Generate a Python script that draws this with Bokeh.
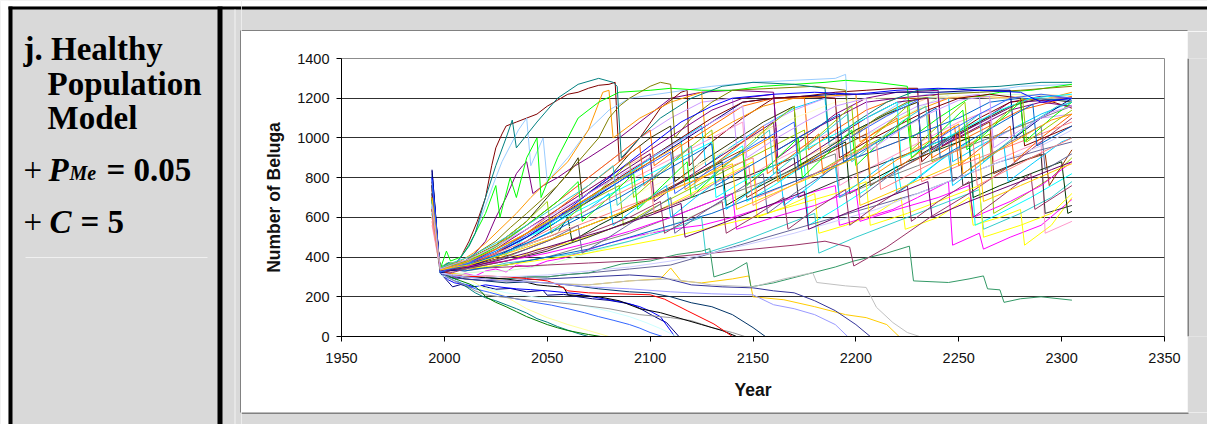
from bokeh.plotting import figure
from bokeh.models import Range1d, FixedTicker
from bokeh.layouts import row, column
from bokeh.core.properties import value
from bokeh.embed import file_html
from bokeh.resources import INLINE

# simulated beluga counts, (year, count)
run01 = [(1994, 840), (1998, 320), (2001, 285), (2004, 250), (2008, 262), (2012, 248), (2018, 255), (2025, 238), (2032, 242), (2040, 225), (2048, 232), (2050, 208), (2058, 212), (2065, 200), (2072, 190), (2080, 182), (2088, 168), (2092, 158), (2097, 130), (2100, 112), (2105, 85), (2108, 70), (2114, 0)]
run02 = [(1994, 700), (1998, 330), (2002, 310), (2006, 295), (2010, 318), (2015, 305), (2020, 330), (2025, 340), (2030, 325), (2035, 360), (2042, 350), (2050, 380), (2058, 395), (2065, 420), (2080, 470), (2095, 510), (2110, 540), (2125, 560), (2140, 600), (2155, 650), (2170, 700), (2190, 760), (2192, 560), (2205, 600), (2218, 640), (2230, 700), (2245, 780), (2247, 460), (2260, 520), (2262, 440), (2275, 500), (2290, 560), (2305, 690)]
run03 = [(1994, 720), (1998, 340), (2001, 370), (2004, 345), (2008, 362), (2012, 350), (2016, 385), (2022, 372), (2030, 410), (2037, 402), (2045, 440), (2052, 452), (2060, 470), (2075, 520), (2090, 580), (2105, 640), (2120, 720), (2135, 800), (2150, 880), (2152, 600), (2165, 650), (2180, 720), (2182, 520), (2195, 560), (2210, 620), (2222, 700), (2224, 540), (2240, 600), (2255, 700), (2257, 560), (2270, 600), (2280, 640), (2282, 460), (2295, 560), (2305, 700)]
run04 = [(1994, 650), (1998, 330), (2002, 355), (2006, 338), (2010, 365), (2015, 352), (2020, 395), (2025, 420), (2030, 410), (2035, 462), (2040, 500), (2047, 530), (2055, 580), (2062, 640), (2070, 680), (2085, 780), (2100, 900), (2115, 1000), (2117, 780), (2130, 860), (2145, 960), (2147, 680), (2160, 760), (2175, 860), (2177, 560), (2190, 640), (2205, 740), (2220, 860), (2222, 740), (2240, 880), (2255, 980), (2258, 560), (2270, 620), (2285, 700), (2295, 760), (2305, 820)]
run05 = [(1994, 780), (1998, 320), (2001, 345), (2005, 330), (2009, 372), (2015, 420), (2020, 480), (2025, 600), (2030, 700), (2035, 820), (2038, 860), (2040, 880), (2043, 720), (2048, 760), (2055, 800), (2062, 850), (2070, 900), (2085, 1000), (2100, 1120), (2110, 1200), (2125, 1230), (2140, 1240), (2160, 1230), (2162, 900), (2175, 1000), (2190, 1120), (2205, 1200), (2220, 1230), (2240, 1240), (2242, 960), (2260, 1080), (2275, 1180), (2290, 1210), (2305, 1200)]
run06 = [(1994, 760), (1998, 340), (2001, 365), (2004, 350), (2008, 400), (2012, 480), (2016, 580), (2020, 700), (2023, 860), (2025, 950), (2028, 1020), (2030, 1060), (2035, 1080), (2040, 1100), (2045, 1120), (2050, 1160), (2055, 1190), (2060, 1220), (2065, 1230), (2070, 1250), (2075, 1265), (2080, 1270), (2083, 1280), (2085, 880), (2095, 1000), (2105, 1150), (2115, 1230), (2118, 1240), (2119, 860), (2130, 980), (2145, 1100), (2160, 1200), (2175, 1210), (2190, 1230), (2205, 1240), (2220, 1250), (2230, 1250), (2232, 880), (2245, 1000), (2260, 1100), (2275, 1180), (2290, 1200), (2305, 1150)]
run07 = [(1994, 640), (1998, 330), (2002, 300), (2005, 290), (2010, 255), (2015, 220), (2020, 195), (2025, 180), (2030, 160), (2035, 140), (2040, 118), (2045, 90), (2050, 72), (2055, 50), (2060, 32), (2065, 15), (2070, 0), (2100, 0)]
run08 = [(1994, 800), (1998, 320), (2002, 285), (2005, 270), (2010, 262), (2015, 250), (2020, 260), (2028, 248), (2035, 240), (2042, 236), (2050, 230), (2058, 222), (2065, 215), (2072, 200), (2080, 185), (2088, 170), (2095, 150), (2100, 128), (2105, 100), (2112, 0)]
run09 = [(1994, 700), (1998, 350), (2002, 372), (2005, 355), (2008, 362), (2014, 385), (2020, 400), (2027, 430), (2035, 470), (2042, 512), (2050, 560), (2065, 660), (2080, 760), (2095, 860), (2110, 960), (2125, 1060), (2127, 860), (2140, 960), (2155, 1060), (2170, 1150), (2185, 1200), (2187, 960), (2200, 1040), (2215, 1120), (2230, 1200), (2245, 1210), (2247, 880), (2260, 960), (2275, 1040), (2290, 1120), (2305, 1180)]
run10 = [(1994, 600), (1998, 310), (2003, 290), (2010, 270), (2020, 245), (2030, 220), (2040, 205), (2050, 190), (2060, 172), (2070, 150), (2080, 128), (2090, 100), (2098, 70), (2105, 40), (2113, 0)]
run11 = [(1994, 680), (1998, 330), (2003, 315), (2010, 320), (2020, 328), (2030, 330), (2040, 345), (2050, 360), (2060, 390), (2070, 420), (2090, 480), (2110, 560), (2130, 650), (2150, 740), (2170, 840), (2190, 940), (2210, 1040), (2225, 1120), (2240, 1200), (2260, 1210), (2280, 1220), (2305, 1210)]
run12 = [(1994, 620), (1998, 320), (2004, 310), (2010, 300), (2015, 270), (2020, 240), (2025, 222), (2030, 200), (2035, 170), (2040, 140), (2045, 118), (2050, 95), (2055, 78), (2060, 60), (2070, 30), (2080, 0)]
run13 = [(1994, 660), (1998, 340), (2002, 352), (2005, 360), (2010, 430), (2015, 520), (2020, 660), (2025, 800), (2028, 880), (2032, 960), (2036, 1040), (2040, 1100), (2042, 860), (2045, 930), (2048, 1000), (2050, 780), (2060, 900), (2070, 1040), (2080, 1140), (2090, 1200), (2110, 1230), (2130, 1260), (2150, 1280), (2170, 1290), (2190, 1300), (2195, 1320), (2197, 980), (2210, 1100), (2225, 1200), (2240, 1230), (2260, 1230), (2280, 1260), (2305, 1270)]
run14 = [(1994, 560), (1998, 340), (2002, 368), (2006, 355), (2010, 380), (2017, 402), (2025, 440), (2032, 475), (2040, 520), (2055, 600), (2070, 680), (2085, 760), (2100, 840), (2115, 920), (2130, 1000), (2145, 1080), (2147, 800), (2160, 880), (2175, 960), (2190, 1040), (2192, 760), (2205, 840), (2220, 920), (2235, 1000), (2250, 1080), (2265, 1140), (2267, 880), (2280, 940), (2290, 980), (2292, 520), (2305, 580)]
run15 = [(1994, 700), (1998, 330), (2003, 352), (2008, 360), (2014, 395), (2020, 420), (2027, 465), (2035, 520), (2042, 578), (2050, 640), (2065, 760), (2080, 880), (2095, 1000), (2110, 1100), (2125, 1180), (2140, 1200), (2142, 960), (2155, 1060), (2170, 1140), (2185, 1200), (2200, 1220), (2202, 1000), (2215, 1080), (2230, 1160), (2245, 1200), (2260, 1220), (2262, 960), (2275, 1040), (2290, 1100), (2305, 1120)]
run16 = [(1994, 600), (1998, 340), (2004, 362), (2010, 380), (2017, 412), (2025, 450), (2032, 492), (2040, 540), (2055, 640), (2070, 740), (2085, 840), (2100, 920), (2102, 720), (2115, 800), (2130, 900), (2145, 980), (2160, 1060), (2162, 820), (2175, 900), (2190, 980), (2205, 1060), (2220, 1140), (2235, 1200), (2250, 1210), (2270, 1200), (2290, 1220), (2305, 1210)]
run17 = [(1994, 720), (1998, 330), (2001, 300), (2005, 280), (2010, 262), (2015, 240), (2022, 222), (2030, 200), (2037, 185), (2045, 170), (2052, 158), (2060, 140), (2068, 120), (2075, 100), (2082, 82), (2090, 60), (2095, 42), (2100, 20), (2106, 0)]
run18 = [(1994, 680), (1998, 330), (2003, 352), (2008, 335), (2013, 350), (2020, 345), (2030, 370), (2040, 382), (2050, 400), (2060, 412), (2070, 430), (2090, 480), (2110, 540), (2125, 600), (2127, 420), (2145, 480), (2165, 560), (2180, 620), (2182, 420), (2200, 500), (2220, 580), (2240, 660), (2260, 740), (2262, 540), (2280, 620), (2295, 700), (2305, 780)]
run19 = [(1994, 640), (1998, 350), (2003, 372), (2007, 360), (2012, 390), (2018, 408), (2025, 440), (2032, 475), (2040, 520), (2055, 600), (2070, 680), (2085, 760), (2087, 560), (2100, 640), (2115, 720), (2130, 800), (2145, 880), (2160, 960), (2175, 1040), (2177, 800), (2190, 880), (2205, 960), (2220, 1040), (2235, 1120), (2237, 880), (2250, 940), (2265, 1020), (2267, 620), (2280, 700), (2295, 800), (2305, 900)]
run20 = [(1994, 760), (1998, 330), (2003, 318), (2010, 310), (2020, 295), (2030, 280), (2040, 276), (2050, 270), (2060, 262), (2070, 260), (2080, 270), (2090, 280), (2105, 290), (2110, 345), (2115, 280), (2125, 270), (2140, 290), (2148, 305), (2150, 200), (2165, 185), (2180, 150), (2195, 110), (2205, 95), (2215, 60), (2221, 0)]
run21 = [(1994, 740), (1998, 340), (2003, 368), (2008, 380), (2014, 420), (2020, 470), (2027, 540), (2035, 620), (2042, 700), (2050, 780), (2060, 880), (2070, 1040), (2077, 1230), (2080, 1240), (2082, 1000), (2095, 1100), (2110, 1180), (2125, 1230), (2127, 1000), (2140, 1080), (2155, 1160), (2170, 1200), (2185, 1210), (2200, 1220), (2202, 980), (2215, 1060), (2230, 1140), (2245, 1200), (2260, 1210), (2275, 1200), (2290, 1190), (2305, 1230)]
run22 = [(1994, 650), (1998, 350), (2003, 340), (2006, 365), (2010, 380), (2017, 418), (2025, 460), (2032, 505), (2040, 560), (2055, 680), (2070, 800), (2085, 920), (2100, 1040), (2102, 860), (2115, 960), (2130, 1060), (2145, 1160), (2160, 1200), (2175, 1200), (2177, 940), (2190, 1040), (2205, 1140), (2220, 1200), (2235, 1200), (2237, 900), (2250, 980), (2265, 1060), (2280, 1140), (2295, 1180), (2305, 1210)]
run23 = [(1994, 700), (1998, 320), (2004, 305), (2010, 300), (2020, 296), (2030, 290), (2040, 298), (2050, 300), (2060, 312), (2070, 320), (2090, 340), (2110, 360), (2130, 420), (2150, 480), (2170, 540), (2190, 600), (2210, 660), (2230, 720), (2250, 800), (2270, 880), (2290, 940), (2305, 980)]
run24 = [(1994, 620), (1998, 320), (2003, 290), (2007, 270), (2010, 260), (2015, 230), (2020, 210), (2027, 200), (2035, 190), (2042, 182), (2050, 175), (2065, 160), (2080, 140), (2095, 110), (2110, 95), (2120, 80), (2130, 45), (2140, 20), (2146, 0)]
run25 = [(1994, 780), (1998, 330), (2004, 305), (2010, 290), (2020, 280), (2030, 270), (2040, 275), (2050, 270), (2060, 260), (2075, 240), (2090, 225), (2100, 220), (2110, 200), (2120, 170), (2130, 150), (2140, 110), (2150, 45), (2156, 0)]
run26 = [(1994, 690), (1998, 330), (2004, 310), (2010, 300), (2020, 296), (2030, 290), (2040, 302), (2050, 300), (2060, 312), (2070, 320), (2086, 365), (2100, 380), (2113, 413), (2125, 430), (2129, 443), (2131, 300), (2140, 330), (2147, 372), (2149, 250), (2160, 270), (2176, 313), (2190, 350), (2199, 380), (2215, 420), (2226, 455), (2228, 280), (2245, 272), (2255, 290), (2262, 305), (2264, 240), (2270, 235), (2272, 172), (2280, 190), (2290, 200), (2305, 183)]
run27 = [(1994, 700), (1998, 330), (2003, 345), (2010, 350), (2017, 372), (2025, 400), (2032, 428), (2040, 460), (2055, 520), (2060, 600), (2062, 480), (2075, 560), (2090, 640), (2105, 720), (2120, 800), (2135, 880), (2137, 660), (2150, 740), (2165, 820), (2180, 900), (2195, 980), (2197, 720), (2210, 800), (2225, 880), (2240, 940), (2255, 1000), (2257, 700), (2270, 760), (2285, 820), (2300, 880), (2303, 620), (2305, 630)]
run28 = [(1994, 720), (1998, 340), (2003, 362), (2010, 380), (2017, 418), (2025, 460), (2032, 515), (2040, 580), (2050, 700), (2060, 820), (2065, 900), (2067, 700), (2080, 800), (2090, 920), (2100, 1000), (2110, 1060), (2112, 780), (2125, 880), (2140, 980), (2155, 1080), (2170, 1160), (2172, 860), (2185, 940), (2200, 1040), (2215, 1120), (2230, 1180), (2232, 920), (2245, 1000), (2260, 1080), (2275, 1160), (2290, 1200), (2305, 1180)]
run29 = [(1994, 680), (1998, 330), (2004, 342), (2010, 350), (2017, 368), (2025, 390), (2032, 412), (2040, 440), (2055, 500), (2070, 560), (2085, 620), (2100, 700), (2115, 780), (2130, 860), (2145, 940), (2147, 700), (2160, 780), (2175, 860), (2190, 940), (2205, 1020), (2207, 760), (2220, 840), (2235, 920), (2250, 1000), (2265, 1080), (2267, 820), (2280, 880), (2292, 920), (2294, 760), (2305, 940)]
run30 = [(1994, 640), (1998, 340), (2004, 330), (2010, 340), (2020, 345), (2030, 350), (2050, 360), (2070, 370), (2090, 380), (2110, 400), (2130, 420), (2150, 440), (2170, 460), (2185, 480), (2197, 450), (2199, 355), (2215, 450), (2236, 600), (2255, 720), (2275, 860), (2290, 980), (2305, 1100)]
run31 = [(1994, 820), (1998, 320), (2004, 296), (2010, 290), (2020, 282), (2030, 280), (2040, 286), (2050, 290), (2070, 300), (2090, 310), (2105, 300), (2120, 260), (2135, 250), (2150, 245), (2160, 230), (2170, 220), (2180, 180), (2190, 130), (2200, 60), (2207, 0)]
run32 = [(1994, 700), (1998, 330), (2004, 348), (2010, 340), (2020, 360), (2030, 380), (2040, 405), (2050, 430), (2070, 500), (2090, 580), (2110, 660), (2130, 740), (2150, 820), (2170, 900), (2172, 700), (2190, 780), (2210, 860), (2230, 940), (2250, 1020), (2252, 760), (2270, 840), (2290, 920), (2292, 620), (2305, 660)]
run33 = [(1994, 760), (1998, 330), (2004, 310), (2010, 300), (2020, 296), (2030, 290), (2038, 278), (2045, 260), (2050, 255), (2058, 248), (2060, 210), (2075, 200), (2085, 180), (2095, 140), (2105, 120), (2115, 90), (2125, 60), (2135, 30), (2142, 0)]
run34 = [(1994, 700), (1998, 330), (2004, 312), (2010, 300), (2020, 305), (2030, 300), (2040, 292), (2050, 280), (2055, 262), (2060, 230), (2070, 220), (2085, 215), (2100, 210), (2107, 188), (2118, 130), (2131, 63), (2140, 0)]
run35 = [(1994, 720), (1998, 340), (2001, 430), (2003, 380), (2008, 400), (2012, 460), (2015, 520), (2020, 620), (2025, 760), (2027, 600), (2032, 800), (2035, 700), (2040, 900), (2045, 1000), (2047, 700), (2055, 900), (2065, 1100), (2075, 1180), (2085, 1230), (2100, 1240), (2110, 1250), (2125, 1240), (2140, 1240), (2155, 1260), (2170, 1270), (2185, 1280), (2195, 1290), (2210, 1280), (2225, 1260), (2227, 1000), (2240, 1100), (2255, 1200), (2270, 1230), (2285, 1240), (2305, 1270)]
run36 = [(1994, 690), (1998, 330), (2003, 300), (2008, 280), (2012, 265), (2015, 250), (2018, 225), (2020, 200), (2025, 172), (2030, 150), (2035, 125), (2040, 100), (2045, 80), (2050, 60), (2055, 44), (2060, 30), (2070, 10), (2076, 0)]
run37 = [(1994, 740), (1998, 340), (2004, 362), (2010, 380), (2017, 428), (2025, 480), (2032, 548), (2040, 620), (2055, 760), (2065, 880), (2075, 1000), (2080, 1100), (2085, 1160), (2090, 1200), (2100, 1260), (2105, 1280), (2110, 1270), (2112, 1000), (2120, 1100), (2130, 1180), (2140, 1240), (2160, 1250), (2180, 1260), (2195, 1240), (2197, 1000), (2210, 1100), (2225, 1180), (2240, 1220), (2260, 1230), (2280, 1240), (2305, 1260)]
run38 = [(1994, 660), (1998, 320), (2004, 308), (2010, 300), (2020, 290), (2030, 280), (2040, 276), (2050, 270), (2070, 260), (2090, 280), (2110, 290), (2130, 260), (2150, 250), (2165, 290), (2179, 322), (2181, 272), (2195, 255), (2205, 247), (2210, 147), (2218, 70), (2225, 20), (2231, 0)]
run39 = [(1994, 640), (1998, 320), (2004, 338), (2010, 330), (2020, 345), (2030, 360), (2040, 380), (2050, 400), (2070, 460), (2090, 520), (2110, 600), (2130, 680), (2150, 760), (2170, 840), (2190, 920), (2192, 700), (2210, 780), (2230, 860), (2250, 940), (2270, 1020), (2290, 1100), (2305, 1160)]
run40 = [(1994, 720), (1998, 320), (2004, 305), (2010, 300), (2020, 290), (2030, 280), (2050, 270), (2070, 250), (2090, 240), (2110, 225), (2130, 215), (2150, 210), (2160, 160), (2170, 140), (2180, 110), (2190, 60), (2196, 0), (2305, 0)]
run41 = [(1994, 600), (1998, 330), (2004, 350), (2010, 360), (2020, 388), (2030, 420), (2050, 500), (2070, 600), (2090, 700), (2110, 800), (2130, 900), (2150, 1000), (2170, 1100), (2190, 1180), (2210, 1200), (2240, 1210), (2270, 1200), (2305, 1200)]
run42 = [(1994, 760), (1998, 330), (2004, 348), (2010, 350), (2017, 386), (2025, 420), (2040, 520), (2055, 620), (2070, 720), (2085, 820), (2100, 920), (2102, 680), (2115, 780), (2130, 880), (2145, 980), (2160, 1080), (2162, 820), (2175, 900), (2190, 1000), (2205, 1100), (2220, 1180), (2235, 1200), (2237, 940), (2250, 1020), (2265, 1100), (2280, 1180), (2305, 1200)]
run43 = [(1994, 580), (1998, 340), (2004, 358), (2010, 370), (2020, 398), (2030, 430), (2050, 500), (2070, 580), (2090, 660), (2110, 740), (2130, 820), (2150, 900), (2152, 700), (2170, 780), (2190, 860), (2210, 940), (2230, 1020), (2232, 780), (2250, 860), (2270, 940), (2290, 1020), (2305, 1080)]
run44 = [(1994, 810), (1998, 320), (2004, 335), (2010, 330), (2020, 348), (2030, 360), (2050, 400), (2070, 440), (2090, 500), (2110, 560), (2130, 620), (2150, 700), (2170, 780), (2190, 860), (2210, 940), (2230, 1020), (2250, 1100), (2265, 1180), (2280, 1200), (2305, 1190)]
run45 = [(1994, 620), (1998, 320), (2004, 312), (2010, 310), (2020, 305), (2030, 300), (2050, 310), (2070, 330), (2090, 350), (2110, 380), (2130, 420), (2150, 470), (2170, 520), (2190, 580), (2210, 640), (2230, 720), (2250, 800), (2270, 880), (2290, 960), (2305, 1040)]
run46 = [(1994, 835), (1998, 320), (2003, 332), (2010, 340), (2017, 370), (2025, 400), (2040, 480), (2055, 580), (2070, 680), (2085, 780), (2100, 880), (2115, 980), (2130, 1080), (2145, 1180), (2160, 1200), (2175, 1210), (2190, 1220), (2205, 1220), (2220, 1230), (2240, 1230), (2260, 1240), (2275, 1240), (2277, 1000), (2290, 1100), (2305, 1200)]
run47 = [(1994, 680), (1998, 340), (2004, 358), (2010, 350), (2020, 368), (2030, 380), (2050, 420), (2070, 470), (2090, 530), (2110, 600), (2125, 660), (2140, 720), (2142, 540), (2160, 600), (2180, 660), (2200, 740), (2202, 580), (2220, 640), (2240, 700), (2255, 760), (2257, 600), (2275, 680), (2290, 760), (2305, 880)]
run48 = [(1994, 700), (1998, 330), (2004, 345), (2010, 340), (2020, 352), (2030, 360), (2050, 390), (2070, 420), (2090, 460), (2110, 500), (2130, 550), (2150, 600), (2170, 660), (2190, 720), (2205, 780), (2207, 560), (2225, 620), (2240, 680), (2260, 760), (2262, 500), (2280, 560), (2295, 620), (2305, 720)]
run49 = [(1994, 660), (1998, 340), (2004, 360), (2010, 370), (2017, 398), (2025, 430), (2040, 500), (2055, 580), (2070, 660), (2085, 740), (2100, 820), (2115, 900), (2130, 980), (2132, 700), (2145, 780), (2160, 860), (2175, 940), (2190, 1020), (2205, 1100), (2220, 1180), (2222, 900), (2240, 980), (2255, 1060), (2270, 1140), (2285, 1200), (2305, 1220)]
run50 = [(1994, 740), (1998, 330), (2004, 352), (2010, 360), (2017, 398), (2025, 440), (2040, 540), (2055, 640), (2070, 740), (2085, 840), (2100, 940), (2115, 1040), (2130, 1140), (2145, 1200), (2160, 1220), (2162, 940), (2175, 1020), (2190, 1100), (2205, 1180), (2220, 1200), (2240, 1220), (2242, 960), (2260, 1060), (2275, 1140), (2290, 1180), (2305, 1160)]
run51 = [(1994, 760), (1998, 340), (2004, 350), (2010, 360), (2017, 388), (2025, 420), (2040, 500), (2055, 600), (2070, 700), (2085, 800), (2100, 900), (2115, 1000), (2130, 1100), (2145, 1180), (2160, 1200), (2175, 1210), (2190, 1200), (2192, 900), (2205, 980), (2220, 1060), (2235, 1140), (2250, 1200), (2265, 1220), (2280, 1200), (2282, 960), (2305, 1060)]
run52 = [(1994, 700), (1998, 340), (2002, 372), (2005, 360), (2008, 400), (2012, 455), (2015, 520), (2020, 700), (2025, 860), (2030, 1000), (2033, 1090), (2035, 950), (2045, 1080), (2055, 1200), (2065, 1270), (2075, 1300), (2082, 1280), (2084, 1260), (2086, 900), (2095, 1000), (2105, 1100), (2120, 1200), (2135, 1260), (2150, 1280), (2170, 1270), (2185, 1250), (2187, 980), (2200, 1080), (2215, 1180), (2230, 1240), (2250, 1250), (2270, 1260), (2290, 1280), (2305, 1280)]
run53 = [(1994, 800), (1998, 330), (2004, 350), (2010, 360), (2017, 390), (2025, 420), (2040, 500), (2055, 600), (2070, 720), (2085, 840), (2100, 960), (2115, 1080), (2130, 1160), (2140, 1200), (2160, 1220), (2180, 1230), (2200, 1220), (2220, 1240), (2240, 1250), (2260, 1240), (2280, 1230), (2290, 1180), (2305, 1200)]
run54 = [(1994, 620), (1998, 340), (2004, 352), (2010, 360), (2030, 420), (2050, 520), (2070, 640), (2080, 720), (2082, 560), (2095, 660), (2108, 760), (2110, 600), (2122, 700), (2135, 800), (2137, 640), (2150, 740), (2163, 840), (2165, 660), (2178, 760), (2190, 860), (2192, 700), (2205, 800), (2218, 900), (2220, 720), (2233, 820), (2245, 920), (2247, 760), (2260, 860), (2272, 960), (2274, 780), (2287, 880), (2300, 980), (2305, 1000)]
run55 = [(1994, 700), (1998, 330), (2004, 342), (2010, 350), (2025, 420), (2040, 520), (2055, 640), (2070, 760), (2085, 880), (2095, 960), (2097, 760), (2108, 860), (2120, 960), (2122, 780), (2133, 880), (2145, 980), (2155, 1060), (2157, 820), (2170, 920), (2182, 1020), (2184, 820), (2196, 920), (2208, 1020), (2220, 1100), (2222, 860), (2235, 960), (2248, 1060), (2250, 860), (2262, 960), (2275, 1060), (2277, 880), (2290, 1000), (2305, 1120)]
run56 = [(1994, 680), (1998, 340), (2004, 358), (2010, 370), (2025, 450), (2040, 560), (2055, 680), (2065, 780), (2067, 580), (2080, 700), (2092, 820), (2094, 640), (2106, 760), (2118, 880), (2120, 700), (2132, 820), (2145, 940), (2147, 760), (2160, 880), (2172, 1000), (2174, 800), (2186, 920), (2198, 1040), (2200, 860), (2212, 980), (2225, 1100), (2227, 900), (2240, 1020), (2252, 1140), (2254, 940), (2267, 1060), (2280, 1180), (2282, 980), (2295, 1100), (2305, 1180)]
run57 = [(1994, 640), (1998, 330), (2004, 322), (2010, 340), (2030, 380), (2050, 440), (2070, 520), (2090, 600), (2105, 680), (2107, 520), (2120, 600), (2135, 680), (2137, 520), (2150, 600), (2165, 700), (2167, 540), (2180, 640), (2195, 740), (2197, 560), (2210, 660), (2225, 760), (2227, 580), (2240, 680), (2255, 780), (2257, 600), (2270, 700), (2285, 820), (2287, 640), (2305, 760)]
run58 = [(1994, 760), (1998, 330), (2004, 338), (2010, 340), (2030, 400), (2050, 480), (2065, 560), (2067, 420), (2080, 500), (2095, 600), (2110, 700), (2112, 520), (2125, 620), (2140, 720), (2155, 820), (2157, 620), (2170, 720), (2185, 820), (2200, 920), (2202, 700), (2215, 800), (2230, 900), (2245, 1000), (2247, 780), (2260, 880), (2275, 980), (2290, 1060), (2292, 840), (2305, 920)]
run59 = [(1994, 700), (1998, 340), (2004, 366), (2010, 380), (2025, 460), (2040, 580), (2050, 680), (2052, 520), (2065, 640), (2078, 760), (2090, 880), (2092, 700), (2105, 820), (2118, 940), (2130, 1040), (2132, 820), (2145, 940), (2158, 1060), (2170, 1160), (2172, 920), (2185, 1040), (2198, 1160), (2200, 920), (2212, 1040), (2225, 1160), (2227, 940), (2240, 1060), (2253, 1180), (2255, 960), (2268, 1080), (2281, 1200), (2283, 980), (2305, 1140)]
run60 = [(1994, 600), (1998, 335), (2004, 350), (2012, 372), (2025, 420), (2040, 480), (2055, 560), (2070, 640), (2085, 720), (2100, 800), (2102, 620), (2118, 700), (2133, 780), (2148, 860), (2150, 660), (2165, 740), (2180, 820), (2195, 900), (2210, 980), (2212, 740), (2227, 820), (2242, 900), (2257, 980), (2259, 760), (2274, 840), (2289, 920), (2305, 1000)]
run61 = [(1994, 760), (1998, 325), (2004, 340), (2012, 360), (2025, 410), (2040, 470), (2055, 540), (2070, 620), (2085, 700), (2100, 790), (2115, 880), (2130, 970), (2132, 760), (2147, 850), (2162, 940), (2177, 1030), (2192, 1120), (2194, 880), (2209, 970), (2224, 1060), (2239, 1150), (2241, 900), (2256, 990), (2271, 1080), (2286, 1170), (2288, 960), (2305, 1060)]
run62 = [(1994, 720), (1998, 330), (2004, 336), (2012, 350), (2025, 380), (2040, 420), (2060, 480), (2080, 540), (2100, 610), (2115, 670), (2117, 500), (2135, 570), (2155, 650), (2175, 730), (2177, 540), (2195, 620), (2215, 700), (2235, 780), (2237, 600), (2255, 680), (2275, 760), (2295, 840), (2305, 880)]
run63 = [(1994, 680), (1998, 345), (2004, 372), (2012, 400), (2025, 470), (2040, 560), (2055, 660), (2070, 760), (2082, 860), (2084, 660), (2096, 760), (2108, 860), (2120, 960), (2122, 740), (2134, 840), (2146, 940), (2158, 1040), (2160, 820), (2172, 920), (2184, 1020), (2196, 1120), (2198, 880), (2210, 980), (2222, 1080), (2234, 1160), (2236, 920), (2248, 1020), (2260, 1120), (2262, 880), (2274, 980), (2286, 1080), (2298, 1160), (2305, 1180)]
run64 = [(1994, 640), (1998, 340), (2004, 355), (2012, 380), (2025, 440), (2040, 520), (2055, 610), (2070, 700), (2085, 790), (2100, 880), (2115, 970), (2117, 740), (2130, 830), (2145, 920), (2160, 1010), (2162, 780), (2175, 870), (2190, 960), (2205, 1050), (2207, 800), (2220, 890), (2235, 980), (2250, 1070), (2252, 820), (2265, 910), (2280, 1000), (2295, 1090), (2305, 1120)]
run65 = [(1994, 790), (1998, 325), (2004, 345), (2012, 370), (2025, 430), (2040, 510), (2055, 600), (2070, 690), (2085, 780), (2100, 870), (2110, 930), (2112, 720), (2125, 810), (2140, 900), (2155, 990), (2170, 1080), (2172, 840), (2185, 930), (2200, 1020), (2215, 1110), (2230, 1190), (2232, 940), (2245, 1030), (2260, 1120), (2275, 1200), (2290, 1220), (2305, 1200)]
run66 = [(1994, 700), (1998, 335), (2004, 348), (2012, 360), (2025, 400), (2040, 450), (2060, 520), (2080, 600), (2100, 690), (2120, 780), (2140, 870), (2142, 640), (2160, 720), (2180, 810), (2200, 900), (2202, 660), (2220, 740), (2240, 830), (2260, 920), (2262, 680), (2280, 760), (2300, 850), (2305, 870)]
run67 = [(1994, 660), (1998, 340), (2004, 362), (2012, 390), (2025, 455), (2040, 540), (2055, 630), (2070, 720), (2085, 810), (2100, 900), (2115, 990), (2130, 1080), (2145, 1160), (2147, 900), (2160, 990), (2175, 1080), (2190, 1160), (2205, 1200), (2207, 940), (2220, 1030), (2235, 1120), (2250, 1190), (2265, 1210), (2267, 950), (2280, 1040), (2295, 1130), (2305, 1160)]

runs = [run01, run02, run03, run04, run05, run06, run07, run08, run09, run10,
        run11, run12, run13, run14, run15, run16, run17, run18, run19, run20,
        run21, run22, run23, run24, run25, run26, run27, run28, run29, run30,
        run31, run32, run33, run34, run35, run36, run37, run38, run39, run40,
        run41, run42, run43, run44, run45, run46, run47, run48, run49, run50,
        run51, run52, run53, run54, run55, run56, run57, run58, run59, run60,
        run61, run62, run63, run64, run65, run66, run67]

# old spreadsheet default series colours
run_colors = ["#000080", "#FF00FF", "#FFFF00", "#00FFFF", "#800080", "#800000", "#008080", "#0000FF",
              "#00CCFF", "#CCFFFF", "#CCFFCC", "#FFFF99", "#99CCFF", "#FF99CC", "#CC99FF", "#FFCC99",
              "#3366FF", "#33CCCC", "#99CC00", "#FFCC00", "#FF9900", "#FF6600", "#666699", "#969696",
              "#003366", "#339966", "#003300", "#333300", "#993300", "#993366", "#333399", "#333333",
              "#000000", "#FF0000", "#00FF00", "#008000", "#808000", "#C0C0C0", "#808080", "#9999FF",
              "#FFFFCC", "#660066", "#FF8080", "#0066CC", "#CCCCFF", "#000080", "#FF00FF", "#FFFF00",
              "#00FFFF", "#800080", "#800000", "#008080", "#0000FF", "#00CCFF", "#FF6600", "#00FF00",
              "#993366", "#666699", "#99CC00", "#FF8080", "#0066CC", "#660066", "#33CCCC", "#FF9900",
              "#3366FF", "#FFCC00", "#CC99FF"]

year_ticks = [1950, 2000, 2050, 2100, 2150, 2200, 2250, 2300, 2350]
count_ticks = [0, 200, 400, 600, 800, 1000, 1200, 1400]

GRAY = "#d9d9d9"
EDGE = "#2a2a2a"


def panel(w, h):
    # plain pixel-space figure used for the table cells around the chart
    f = figure(width=w, height=h, x_range=Range1d(0, w), y_range=Range1d(h, 0),
               output_backend="svg", toolbar_location=None, tools="",
               x_axis_type=None, y_axis_type=None, min_border=0)
    f.background_fill_color = GRAY
    f.border_fill_color = GRAY
    f.outline_line_color = None
    f.xgrid.visible = False
    f.ygrid.visible = False
    return f


def bar(f, l, r, t, b, col="black"):
    f.quad(left=[l], right=[r], top=[t], bottom=[b], fill_color=col, line_color=None)


# chart box
p = figure(width=946, height=381, x_range=Range1d(1950, 2350), y_range=Range1d(0, 1400),
           output_backend="svg", toolbar_location=None, tools="",
           min_border_left=100, min_border_right=23, min_border_top=27, min_border_bottom=76)
p.background_fill_color = "white"
p.border_fill_color = "white"
p.outline_line_color = "#8c8c8c"
p.outline_line_width = 1

for run, col in zip(runs, run_colors):
    p.line([r[0] for r in run], [r[1] for r in run], line_color=col, line_width=1)

p.xgrid.grid_line_color = None
p.ygrid.ticker = FixedTicker(ticks=count_ticks[1:-1])
p.ygrid.grid_line_color = "#303030"
p.ygrid.grid_line_width = 1

for ax in (p.xaxis[0], p.yaxis[0]):
    ax.axis_line_color = "black"
    ax.axis_line_width = 1
    ax.major_tick_line_color = "black"
    ax.major_tick_in = 0
    ax.major_tick_out = 5
    ax.minor_tick_line_color = None
    ax.major_label_text_font = "Liberation Sans"
    ax.major_label_text_font_size = "14.5px"
    ax.major_label_text_color = "#111111"
    ax.axis_label_text_font = "Liberation Sans"
    ax.axis_label_text_font_size = "17.5px"
    ax.axis_label_text_font_style = "bold"
    ax.axis_label_text_color = "#111111"

p.xaxis.ticker = FixedTicker(ticks=year_ticks)
p.yaxis.ticker = FixedTicker(ticks=count_ticks)
p.xaxis.axis_label = "Year"
p.yaxis.axis_label = "Number of Beluga"
p.xaxis.major_label_standoff = 11
p.yaxis.major_label_standoff = 7
p.xaxis.axis_label_standoff = 14
p.yaxis.axis_label_standoff = 10

# left cell with the model caption
cell = panel(241, 424)
bar(cell, 0, 8, 0, 424, "white")
bar(cell, 0, 241, 0, 6, "white")
bar(cell, 8, 241, 6, 9)
bar(cell, 8, 12, 6, 424)
bar(cell, 217, 222, 6, 424)
bar(cell, 234, 235, 9, 424, "#f4f4f4")
bar(cell, 25, 207, 256.5, 257.5, "#f0f0f0")
bar(cell, 240, 241, 30, 412, EDGE)


def txt(x, y, s, size="33px", style="bold"):
    cell.text(x=[x], y=[y], text=[s], text_font=value("Liberation Serif"), text_font_size=size,
              text_font_style=style, text_color="black", text_baseline="alphabetic", text_align="left")


# baselines sit ~11.5px above the visible baseline in this renderer
txt(23, 48, "j. Healthy")
txt(47, 83, "Population")
txt(47, 117, "Model")
txt(23, 169.5, "+", style="normal")
txt(48, 169.5, "P", style="bold italic")
txt(69, 172.5, "Me", size="20px", style="bold italic")
txt(106, 169.5, "= 0.05")
txt(23, 221.5, "+", style="normal")
txt(49, 221.5, "C", style="bold italic")
txt(80, 221.5, "= 5")

top_strip = panel(966, 31)
bar(top_strip, 0, 966, 0, 6, "white")
bar(top_strip, 0, 966, 6, 9)
bar(top_strip, 0, 946, 30, 31, EDGE)

right_strip = panel(20, 381)
bar(right_strip, 0, 1, 0, 381, EDGE)

bottom_strip = panel(966, 12)
bar(bottom_strip, 0, 947, 0, 1, EDGE)

page = row(cell, column(top_strip, row(p, right_strip, spacing=0), bottom_strip, spacing=0), spacing=0)

open("out.html", "w").write(file_html(page, INLINE))
